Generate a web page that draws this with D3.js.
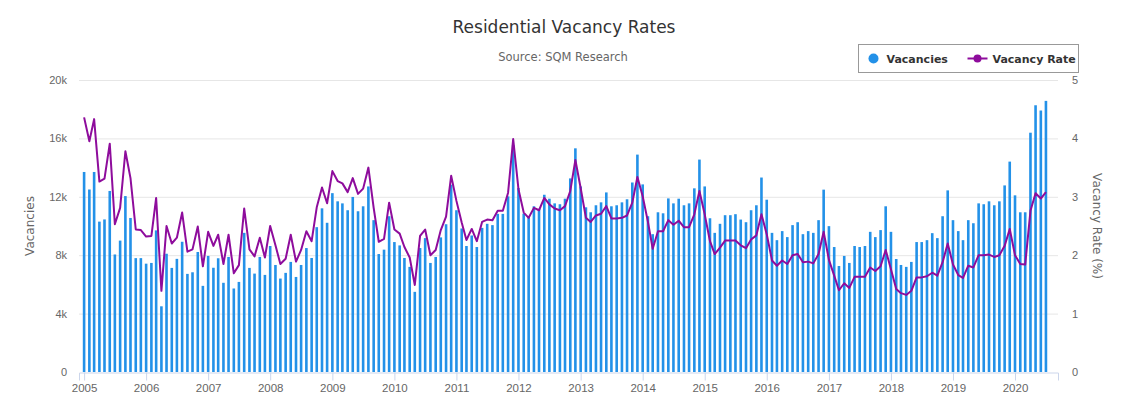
<!DOCTYPE html>
<html>
<head>
<meta charset="utf-8">
<script src="https://cdn.jsdelivr.net/npm/d3@7"></script>
<style>
  body { margin: 0; background: #fff; }
  svg { display: block; font-family: "DejaVu Sans", sans-serif; }
</style>
</head>
<body>
<div id="chart"></div>
<script>
const d = document;

/* Datos */
const startYear = 2005;
const vacancies = [
  13700, 12500, 13700, 10300, 10450, 12400, 8050, 9000, 12050, 10550, 7800, 7800,
  7420, 7470, 9700, 4500, 8100, 7130, 7750, 8920, 6720, 6830, 8220, 5900,
  7950, 7140, 7790, 6110, 7880, 5720, 6170, 9530, 7130, 6740, 7880, 6650,
  8630, 7330, 6400, 6790, 7540, 6510, 7330, 8490, 7810, 9920, 11210, 10220,
  12250, 11690, 11550, 11080, 11990, 11010, 11350, 12710, 10400, 8080, 8380, 10670,
  8900, 8670, 7810, 7200, 5490, 8490, 9170, 7470, 7880, 9220, 10120, 12830,
  11080, 9830, 8630, 9350, 8560, 9870, 10150, 10060, 10830, 10830, 12030, 15550,
  12600, 10850, 10670, 11350, 11170, 12140, 11870, 11550, 11490, 11870, 13260, 15320,
  12710, 11280, 10940, 11420, 11620, 12300, 11350, 11420, 11620, 11830, 12980, 14890,
  12850, 10670, 9440, 10940, 10870, 11890, 11550, 11870, 11420, 11550, 12580, 14550,
  12710, 10530, 9530, 10150, 10740, 10740, 10810, 10440, 10260, 11080, 11420, 13320,
  11800, 9530, 9030, 9650, 9240, 10060, 10260, 9440, 9650, 9530, 10400, 12490,
  9990, 8560, 7260, 7950, 7470, 8630, 8560, 8630, 9600, 9240, 9720, 11350,
  9600, 7740, 7330, 7200, 7540, 8900, 8900, 9030, 9510, 9170, 10670, 12440,
  10400, 9650, 9030, 10400, 10190, 11550, 11490, 11690, 11420, 11690, 12780, 14410,
  12100, 10940, 10940, 16390, 18270, 17910, 18570
];
const vacancyRate = [
  4.36, 3.95, 4.33, 3.26, 3.31, 3.91, 2.53, 2.81, 3.78, 3.32, 2.44, 2.43,
  2.32, 2.33, 2.98, 1.39, 2.50, 2.20, 2.30, 2.73, 2.06, 2.10, 2.49, 1.81,
  2.40, 2.16, 2.35, 1.85, 2.35, 1.69, 1.83, 2.80, 2.10, 1.98, 2.30, 1.96,
  2.50, 2.17, 1.85, 1.94, 2.35, 1.89, 2.09, 2.41, 2.24, 2.82, 3.16, 2.89,
  3.44, 3.27, 3.23, 3.08, 3.32, 3.05, 3.14, 3.50, 2.81, 2.23, 2.28, 2.90,
  2.44, 2.37, 2.14, 1.96, 1.49, 2.33, 2.44, 2.00, 2.09, 2.43, 2.66, 3.36,
  2.93, 2.56, 2.26, 2.45, 2.24, 2.57, 2.61, 2.60, 2.76, 2.76, 3.07, 3.99,
  3.13, 2.73, 2.64, 2.81, 2.77, 2.98, 2.87, 2.80, 2.77, 2.84, 3.10, 3.63,
  3.15, 2.64, 2.57, 2.68, 2.71, 2.84, 2.63, 2.63, 2.64, 2.68, 2.90, 3.34,
  3.01, 2.57, 2.11, 2.41, 2.41, 2.60, 2.52, 2.59, 2.48, 2.48, 2.70, 3.10,
  2.70, 2.24, 2.02, 2.13, 2.25, 2.25, 2.25, 2.17, 2.12, 2.27, 2.34, 2.70,
  2.36, 1.91, 1.82, 1.91, 1.85, 2.00, 2.02, 1.88, 1.89, 1.86, 2.02, 2.40,
  1.92, 1.65, 1.40, 1.52, 1.44, 1.63, 1.63, 1.63, 1.79, 1.73, 1.81, 2.09,
  1.76, 1.42, 1.35, 1.32, 1.39, 1.62, 1.62, 1.64, 1.70, 1.65, 1.88, 2.20,
  1.84, 1.66, 1.61, 1.82, 1.79, 2.00, 2.00, 2.01, 1.97, 2.00, 2.16, 2.45,
  2.00, 1.85, 1.84, 2.76, 3.06, 2.97, 3.08
];
const yearTicks = d3.range(2005, 2021);
const leftTicks = [0, 4000, 8000, 12000, 16000, 20000];
const rightTicks = [0, 1, 2, 3, 4, 5];

const months = vacancies.map((v, i) => new Date(Date.UTC(startYear, i, 1)));

/* Lienzo */
const width = 1123, height = 398;
const m = { top: 80, right: 65, bottom: 26, left: 79 };
const svg = d3.select("#chart").append("svg").attr("width", width).attr("height", height);

const x = d3.scaleUtc()
  .domain([new Date(Date.UTC(2004, 11, 2)), new Date(Date.UTC(2020, 8, 10))])
  .range([m.left, width - m.right]);
const yL = d3.scaleLinear().domain([0, 20000]).range([height - m.bottom, m.top]);
const yR = d3.scaleLinear().domain([0, 5]).range([height - m.bottom, m.top]);

// Rejilla
svg.append("g")
  .selectAll("line")
  .data(leftTicks.slice(1))
  .enter()
  .append("line")
  .attr("x1", m.left).attr("x2", width - m.right)
  .attr("y1", (t) => yL(t) + 0.5).attr("y2", (t) => yL(t) + 0.5)
  .attr("stroke", "#e6e6e6");

// Eje X
const xAxis = svg.append("g")
  .attr("transform", `translate(0,${height - m.bottom + 0.5})`)
  .call(d3.axisBottom(x)
    .tickValues(yearTicks.map((y) => new Date(Date.UTC(y, 0, 1))))
    .tickFormat(d3.utcFormat("%Y"))
    .tickSize(8)
    .tickPadding(3));
xAxis.select(".domain").attr("stroke", "#ccd6eb");
xAxis.selectAll(".tick line").attr("stroke", "#ccd6eb");
xAxis.selectAll("text").attr("fill", "#666").style("font-size", "11.5px");

// Eje izquierdo
const left = svg.append("g")
  .attr("transform", `translate(${m.left},0)`)
  .call(d3.axisLeft(yL).tickValues(leftTicks).tickFormat((t) => (t ? t / 1000 + "k" : "0")).tickSize(0).tickPadding(12));
left.select(".domain").remove();
left.selectAll("text").attr("fill", "#666").style("font-size", "11px");

// Eje derecho
const right = svg.append("g")
  .attr("transform", `translate(${width - m.right},0)`)
  .call(d3.axisRight(yR).tickValues(rightTicks).tickFormat(d3.format("d")).tickSize(0).tickPadding(14));
right.select(".domain").remove();
right.selectAll("text").attr("fill", "#666").style("font-size", "11px");

// Títulos de ejes
svg.append("text")
  .attr("transform", `translate(34,${(m.top + height - m.bottom) / 2}) rotate(-90)`)
  .attr("text-anchor", "middle")
  .attr("fill", "#666")
  .style("font-size", "12px")
  .text("Vacancies");
svg.append("text")
  .attr("transform", `translate(1093,${(m.top + height - m.bottom) / 2}) rotate(90)`)
  .attr("text-anchor", "middle")
  .attr("fill", "#666")
  .style("font-size", "12px")
  .text("Vacancy Rate (%)");

// Barras
const barW = 2.6;
svg.append("g")
  .selectAll("rect")
  .data(vacancies)
  .enter()
  .append("rect")
  .attr("x", (v, i) => x(months[i]) - barW / 2)
  .attr("y", (v) => yL(v))
  .attr("width", barW)
  .attr("height", (v) => yL(0) - yL(v))
  .attr("fill", "#2391e8");

// Línea
const line = d3.line()
  .x((v, i) => x(months[i]))
  .y((v) => yR(v));
svg.append("path")
  .datum(vacancyRate)
  .attr("d", line)
  .attr("fill", "none")
  .attr("stroke", "#8e0c9c")
  .attr("stroke-width", 2)
  .attr("stroke-linejoin", "round");

// Título
svg.append("text")
  .attr("x", 564).attr("y", 33)
  .attr("text-anchor", "middle")
  .attr("fill", "#333")
  .style("font-size", "17px")
  .text("Residential Vacancy Rates");
svg.append("text")
  .attr("x", 563).attr("y", 61)
  .attr("text-anchor", "middle")
  .attr("fill", "#666")
  .style("font-size", "11.5px")
  .text("Source: SQM Research");

// Leyenda
const lg = svg.append("g").attr("transform", "translate(858.5,44.5)");
lg.append("rect").attr("width", 220).attr("height", 28).attr("fill", "#fff").attr("stroke", "#999");
lg.append("circle").attr("cx", 15).attr("cy", 14).attr("r", 5).attr("fill", "#2391e8");
lg.append("text").attr("x", 28).attr("y", 18).attr("fill", "#333")
  .style("font-size", "11px").style("font-weight", "bold").text("Vacancies");
lg.append("line").attr("x1", 109).attr("x2", 129).attr("y1", 14).attr("y2", 14)
  .attr("stroke", "#8e0c9c").attr("stroke-width", 2);
lg.append("circle").attr("cx", 119).attr("cy", 14).attr("r", 4).attr("fill", "#8e0c9c");
lg.append("text").attr("x", 134).attr("y", 18).attr("fill", "#333")
  .style("font-size", "11px").style("font-weight", "bold").text("Vacancy Rate");
</script>
</body>
</html>
